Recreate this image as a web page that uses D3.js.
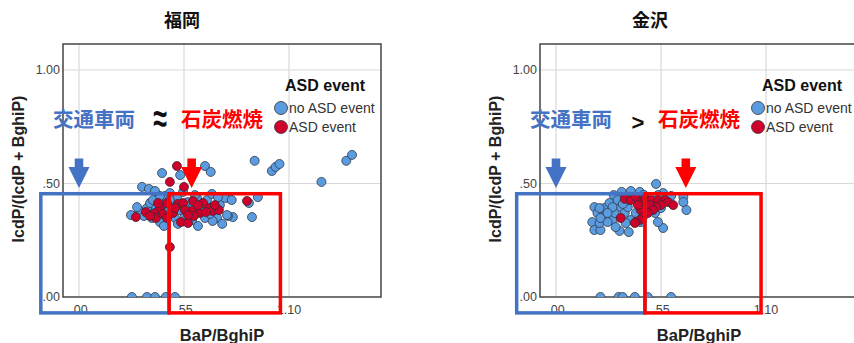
<!DOCTYPE html>
<html><head><meta charset="utf-8">
<script src="https://cdn.jsdelivr.net/npm/d3@7"></script>
<style>body{margin:0;background:#fff}svg{display:block}</style>
</head><body>
<svg id="c" width="854" height="343"></svg>
<script>
const cities = ["福岡", "金沢"];
const relations = ["≈", ">"];
const sourceLabels = ["交通車両", "石炭燃焼"];
const legendTitle = "ASD event";
const seriesNames = ["no ASD event", "ASD event"];
const xTitle = "BaP/BghiP";
const yTitle = "IcdP/(IcdP + BghiP)";
const xTicks = [0, 0.55, 1.10];
const xTickLabels = [".00", ".55", "1.10"];
const yTicks = [0, 0.5, 1.0];
const yTickLabels = [".00", ".50", "1.00"];

const fukuokaNoASD = [[0.92,0.60],[1.01,0.555],[1.03,0.573],[1.05,0.586],[1.27,0.507],[1.40,0.60],[1.43,0.626],
[0.435,0.546],[0.66,0.577],[0.69,0.551],[0.53,0.537],[0.33,0.485],[0.366,0.476],[0.623,0.313],
[0.906,0.352],[0.937,0.44],[0.89,0.414],[0.806,0.352],[0.78,0.357],[0.785,0.436],[0.764,0.436],
[0.272,0.361],[0.314,0.379],[0.356,0.392],[0.372,0.414],[0.408,0.418],[0.466,0.374],[0.492,0.405],
[0.57,0.418],[0.723,0.348],[0.738,0.405],[0.775,0.361],[0.67,0.427],[0.618,0.436],[0.513,0.436],
[0.403,0.388],[0.45,0.339],[0.387,0.427],[0.34,0.357],[0.382,0.348],[0.424,0.33],[0.503,0.348],
[0.555,0.361],[0.592,0.339],[0.66,0.348],[0.70,0.335],[0.75,0.322],[0.45,0.445],[0.476,0.458],
[0.545,0.463],[0.607,0.449],[0.696,0.454],[0.728,0.44],[0.424,0.445],[0.445,0.313],[0.518,0.322],
[0.634,0.383],[0.686,0.366],[0.529,0.383],[0.435,0.405],[0.304,0.396],[0.597,0.396],[0.476,0.427],
[0.555,0.392],[0.80,0.427],[0.398,0.467],
[0.277,0],[0.356,0],[0.398,0],[0.455,0],[0.503,0]];
const fukuokaASD = [[0.513,0.577],[0.476,0.507],[0.55,0.485],[0.476,0.22],[0.298,0.352],[0.88,0.423],[0.35,0.374],
[0.398,0.37],[0.403,0.348],[0.424,0.396],[0.44,0.366],[0.461,0.414],[0.492,0.37],[0.518,0.41],
[0.534,0.33],[0.571,0.326],[0.545,0.414],[0.597,0.423],[0.592,0.379],[0.634,0.37],[0.602,0.357],
[0.65,0.414],[0.686,0.392],[0.70,0.379],[0.733,0.383],[0.461,0.348],[0.372,0.357],[0.503,0.392],
[0.555,0.383],[0.665,0.374],[0.623,0.405],[0.414,0.414],[0.571,0.361],[0.712,0.405]];
const kanazawaNoASD = [[0.524,0.498],[0.344,0.463],[0.392,0.467],[0.439,0.463],[0.302,0.449],[0.667,0.44],[0.667,0.418],
[0.683,0.383],[0.201,0.396],[0.217,0.37],[0.19,0.33],[0.201,0.295],[0.233,0.295],[0.228,0.326],
[0.333,0.291],[0.381,0.286],[0.561,0.304],[0.534,0.33],[0.254,0.392],[0.28,0.414],[0.254,0.352],
[0.296,0.339],[0.307,0.37],[0.339,0.396],[0.323,0.427],[0.36,0.37],[0.376,0.396],[0.392,0.339],
[0.418,0.37],[0.444,0.33],[0.481,0.392],[0.519,0.37],[0.55,0.392],[0.577,0.436],[0.561,0.458],
[0.534,0.449],[0.376,0.427],[0.296,0.396],[0.228,0.392],[0.27,0.33],[0.233,0.348],[0.312,0.308],
[0.365,0.326],[0.603,0.445],[0.46,0.45],[0.35,0.41],[0.27,0.37],
[0.233,0],[0.328,0],[0.349,0],[0.413,0],[0.481,0],[0.603,0]];
const kanazawaASD = [[0.36,0.432],[0.392,0.427],[0.418,0.44],[0.444,0.418],[0.466,0.436],[0.497,0.427],[0.534,0.427],
[0.571,0.427],[0.587,0.418],[0.614,0.405],[0.55,0.405],[0.524,0.396],[0.492,0.405],[0.508,0.383],
[0.481,0.37],[0.444,0.383],[0.455,0.352],[0.439,0.339],[0.418,0.33],[0.339,0.348],[0.413,0.326],
[0.429,0.405]];

// annotation positions in data units
const trafficArrowX = [0, 0];
const coalArrowX = [0.59, 0.68];
const arrowY = [0.61, 0.48];
const trafficBoxX = [[-0.2, 0.472], [-0.206, 0.466]];
const coalBoxX = [[0.472, 1.055], [0.466, 1.074]];
const boxY = [-0.07, 0.455];

const noASD = [fukuokaNoASD, kanazawaNoASD];
const withASD = [fukuokaASD, kanazawaASD];

const BLUE = "#5b9be0", RED = "#d0002c", ANN_BLUE = "#4472c4", ANN_RED = "#ff0000";
const LAT = "'Liberation Sans', Arial, sans-serif";
const CJK = "'Noto Sans CJK JP', sans-serif";

const svg = d3.select("#c");
const defs = svg.append("defs");
const panelLeft = [63, 540];
const titleX = [182, 650];

cities.forEach((city, i) => {
  const L = panelLeft[i], W = 318, T = 44, B = 297;
  const x = d3.scaleLinear().domain([0, 1.10]).range([L + 16, L + 226]);
  const y = d3.scaleLinear().domain([0, 1]).range([B, 70]);
  const g = svg.append("g");

  defs.append("clipPath").attr("id", "clip" + i)
    .append("rect").attr("x", L).attr("y", T).attr("width", W).attr("height", B - T);

  // grid
  g.selectAll(".gx").data(xTicks).join("line")
    .attr("x1", d => x(d)).attr("x2", d => x(d)).attr("y1", T).attr("y2", B)
    .attr("stroke", "#d9d9d9").attr("stroke-width", 1.2);
  g.selectAll(".gy").data(yTicks.filter(d => d > 0)).join("line")
    .attr("x1", L).attr("x2", L + W).attr("y1", d => y(d)).attr("y2", d => y(d))
    .attr("stroke", "#d9d9d9").attr("stroke-width", 1.2);

  // frame
  g.append("rect").attr("x", L).attr("y", T).attr("width", W).attr("height", B - T)
    .attr("fill", "none").attr("stroke", "#444").attr("stroke-width", 1.5);

  // tick labels
  g.selectAll(".xt").data(xTicks).join("text")
    .attr("x", d => x(d)).attr("y", B + 17).attr("text-anchor", "middle")
    .attr("font-family", LAT).attr("font-size", 12.5).attr("fill", "#444")
    .text((d, k) => xTickLabels[k]);
  g.selectAll(".yt").data(yTicks).join("text")
    .attr("x", L - 3).attr("y", d => y(d) + 4).attr("text-anchor", "end")
    .attr("font-family", LAT).attr("font-size", 12.5).attr("fill", "#444")
    .text((d, k) => yTickLabels[k]);

  // axis titles
  g.append("text").attr("x", L + 159).attr("y", 341).attr("text-anchor", "middle")
    .attr("font-family", LAT).attr("font-size", 16.5).attr("font-weight", "bold").attr("fill", "#222")
    .text(xTitle);
  g.append("text").attr("transform", `translate(${L - 39},169) rotate(-90)`).attr("text-anchor", "middle")
    .attr("font-family", LAT).attr("font-size", 16).attr("font-weight", "bold").attr("fill", "#222")
    .text(yTitle);

  // title
  g.append("text").attr("x", titleX[i]).attr("y", 27).attr("text-anchor", "middle")
    .attr("font-family", CJK).attr("font-size", 18).attr("font-weight", "bold").attr("fill", "#111")
    .text(city);

  // points
  const pg = g.append("g").attr("clip-path", `url(#clip${i})`);
  pg.selectAll(".b").data(noASD[i]).join("circle")
    .attr("cx", d => x(d[0])).attr("cy", d => y(d[1])).attr("r", 4.5)
    .attr("fill", BLUE).attr("stroke", "#2f3a48").attr("stroke-width", 0.8);
  pg.selectAll(".r").data(withASD[i]).join("circle")
    .attr("cx", d => x(d[0])).attr("cy", d => y(d[1])).attr("r", 4.5)
    .attr("fill", RED).attr("stroke", "#3a2a2e").attr("stroke-width", 0.8);

  // boxes
  const box = (xs, col) => g.append("rect")
    .attr("x", x(xs[0])).attr("y", y(boxY[1]))
    .attr("width", x(xs[1]) - x(xs[0])).attr("height", y(boxY[0]) - y(boxY[1]))
    .attr("fill", "none").attr("stroke", col).attr("stroke-width", 3.5);
  box(trafficBoxX[i], ANN_BLUE);
  box(coalBoxX[i], ANN_RED);

  // arrows
  const arrow = (ax, col) => {
    const cx = x(ax), y0 = y(arrowY[0]), y1 = y(arrowY[1]);
    const hs = y1 - 21;
    const p = d3.path();
    p.moveTo(cx - 4.3, y0); p.lineTo(cx + 4.3, y0); p.lineTo(cx + 4.3, hs);
    p.lineTo(cx + 10.5, hs); p.lineTo(cx, y1); p.lineTo(cx - 10.5, hs);
    p.lineTo(cx - 4.3, hs); p.closePath();
    g.append("path").attr("d", p.toString()).attr("fill", col);
  };
  arrow(trafficArrowX[i], ANN_BLUE);
  arrow(coalArrowX[i], ANN_RED);

  // source labels
  g.append("text").attr("x", L - 10).attr("y", 127)
    .attr("font-family", CJK).attr("font-size", 20.5).attr("font-weight", "bold").attr("fill", ANN_BLUE)
    .text(sourceLabels[0]);
  g.append("text").attr("x", L + 118).attr("y", 127)
    .attr("font-family", CJK).attr("font-size", 20.5).attr("font-weight", "bold").attr("fill", ANN_RED)
    .text(sourceLabels[1]);
  if (i === 0) {
    g.append("text").attr("x", L + 97).attr("y", 132).attr("text-anchor", "middle")
      .attr("font-family", LAT).attr("font-size", 25).attr("font-weight", "bold").attr("fill", "#111")
      .attr("transform", `translate(0,${-132 * 0.6}) scale(1,1.6)`)
      .text(relations[i]);
  } else {
    g.append("text").attr("x", L + 98).attr("y", 130).attr("text-anchor", "middle")
      .attr("font-family", LAT).attr("font-size", 22).attr("font-weight", "bold").attr("fill", "#111")
      .text(relations[i]);
  }

  // legend
  g.append("text").attr("x", L + 222).attr("y", 91)
    .attr("font-family", LAT).attr("font-size", 16).attr("font-weight", "bold").attr("fill", "#111")
    .text(legendTitle);
  [BLUE, RED].forEach((col, k) => {
    g.append("circle").attr("cx", L + 218).attr("cy", 108 + k * 19).attr("r", 6.5)
      .attr("fill", col).attr("stroke", "#333").attr("stroke-width", 0.8);
    g.append("text").attr("x", L + 226).attr("y", 113 + k * 19)
      .attr("font-family", LAT).attr("font-size", 14).attr("fill", "#333")
      .text(seriesNames[k]);
  });
});
</script>
</body></html>
